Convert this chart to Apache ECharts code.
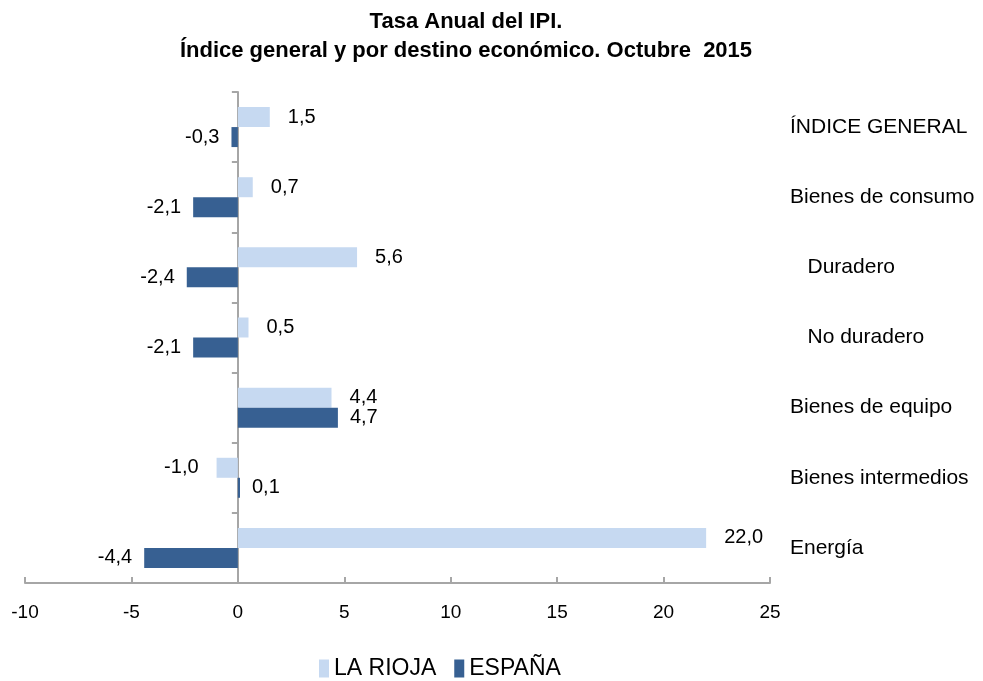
<!DOCTYPE html>
<html>
<head>
<meta charset="utf-8">
<script src="https://cdn.jsdelivr.net/npm/echarts@6/dist/echarts.min.js"></script>
<style>
  html, body { margin: 0; padding: 0; background: #fff; }
  #chart { width: 983px; height: 681px; }
</style>
</head>
<body>
<div id="chart"></div>
<script>
const categories = ['ÍNDICE GENERAL', 'Bienes de consumo', '   Duradero', '   No duradero', 'Bienes de equipo', 'Bienes intermedios', 'Energía']
const larioja = [1.5, 0.7, 5.6, 0.5, 4.4, -1.0, 22.0]
const espana = [-0.3, -2.1, -2.4, -2.1, 4.7, 0.1, -4.4]
const seriesNames = ['LA RIOJA', 'ESPAÑA']

const fmt = v => v.toFixed(1).replace('.', ',')
const withLabels = arr => arr.map(v => ({ value: v, label: { position: v < 0 ? 'left' : 'right' } }))

const chart = echarts.init(document.getElementById('chart'))
const font = "'Liberation Sans', Arial, sans-serif"

chart.setOption({
  animation: false,
  title: {
    text: 'Tasa Anual del IPI.\nÍndice general y por destino económico. Octubre  2015',
    left: 461, top: 2, textAlign: 'center',
    textStyle: { fontFamily: font, fontSize: 22, fontWeight: 'bold', color: '#000', lineHeight: 29 },
  },
  legend: {
    bottom: -4, left: 314, itemWidth: 10, itemHeight: 18, itemGap: 18,
    icon: 'rect',
    textStyle: { fontFamily: font, fontSize: 23, color: '#000' },
  },
  grid: { left: 25, right: 213, top: 92, bottom: 98 },
  xAxis: {
    type: 'value', min: -10, max: 25, interval: 5,
    splitLine: { show: false },
    axisLine: { show: true, onZero: false, lineStyle: { color: '#a6a6a6', width: 2 } },
    axisTick: { show: true, inside: true, length: 6, lineStyle: { color: '#a6a6a6', width: 2 } },
    axisLabel: { margin: 20, fontFamily: font, fontSize: 19, color: '#000' },
  },
  yAxis: [{
    type: 'category', data: categories, inverse: true,
    axisLine: { onZero: true, lineStyle: { color: '#a6a6a6', width: 2 } },
    axisTick: { show: true, length: 6, lineStyle: { color: '#a6a6a6', width: 2 } },
    axisLabel: { show: false },
  }, {
    type: 'category', data: categories, inverse: true, position: 'right',
    axisLine: { show: false }, axisTick: { show: false },
    axisLabel: { margin: 20, align: 'left', fontFamily: font, fontSize: 21, color: '#000' },
  }],
  series: [{
    name: seriesNames[0], type: 'bar', data: withLabels(larioja), barWidth: 20, barGap: '0%',
    itemStyle: { color: '#c6d9f1' },
    label: { show: true, distance: 18, formatter: p => fmt(p.value), fontFamily: font, fontSize: 20, color: '#000' },
  }, {
    name: seriesNames[1], type: 'bar', data: withLabels(espana), barWidth: 20, barGap: '0%',
    itemStyle: { color: '#376092' },
    label: { show: true, distance: 12, formatter: p => fmt(p.value), fontFamily: font, fontSize: 20, color: '#000' },
  }],
})
</script>
</body>
</html>
